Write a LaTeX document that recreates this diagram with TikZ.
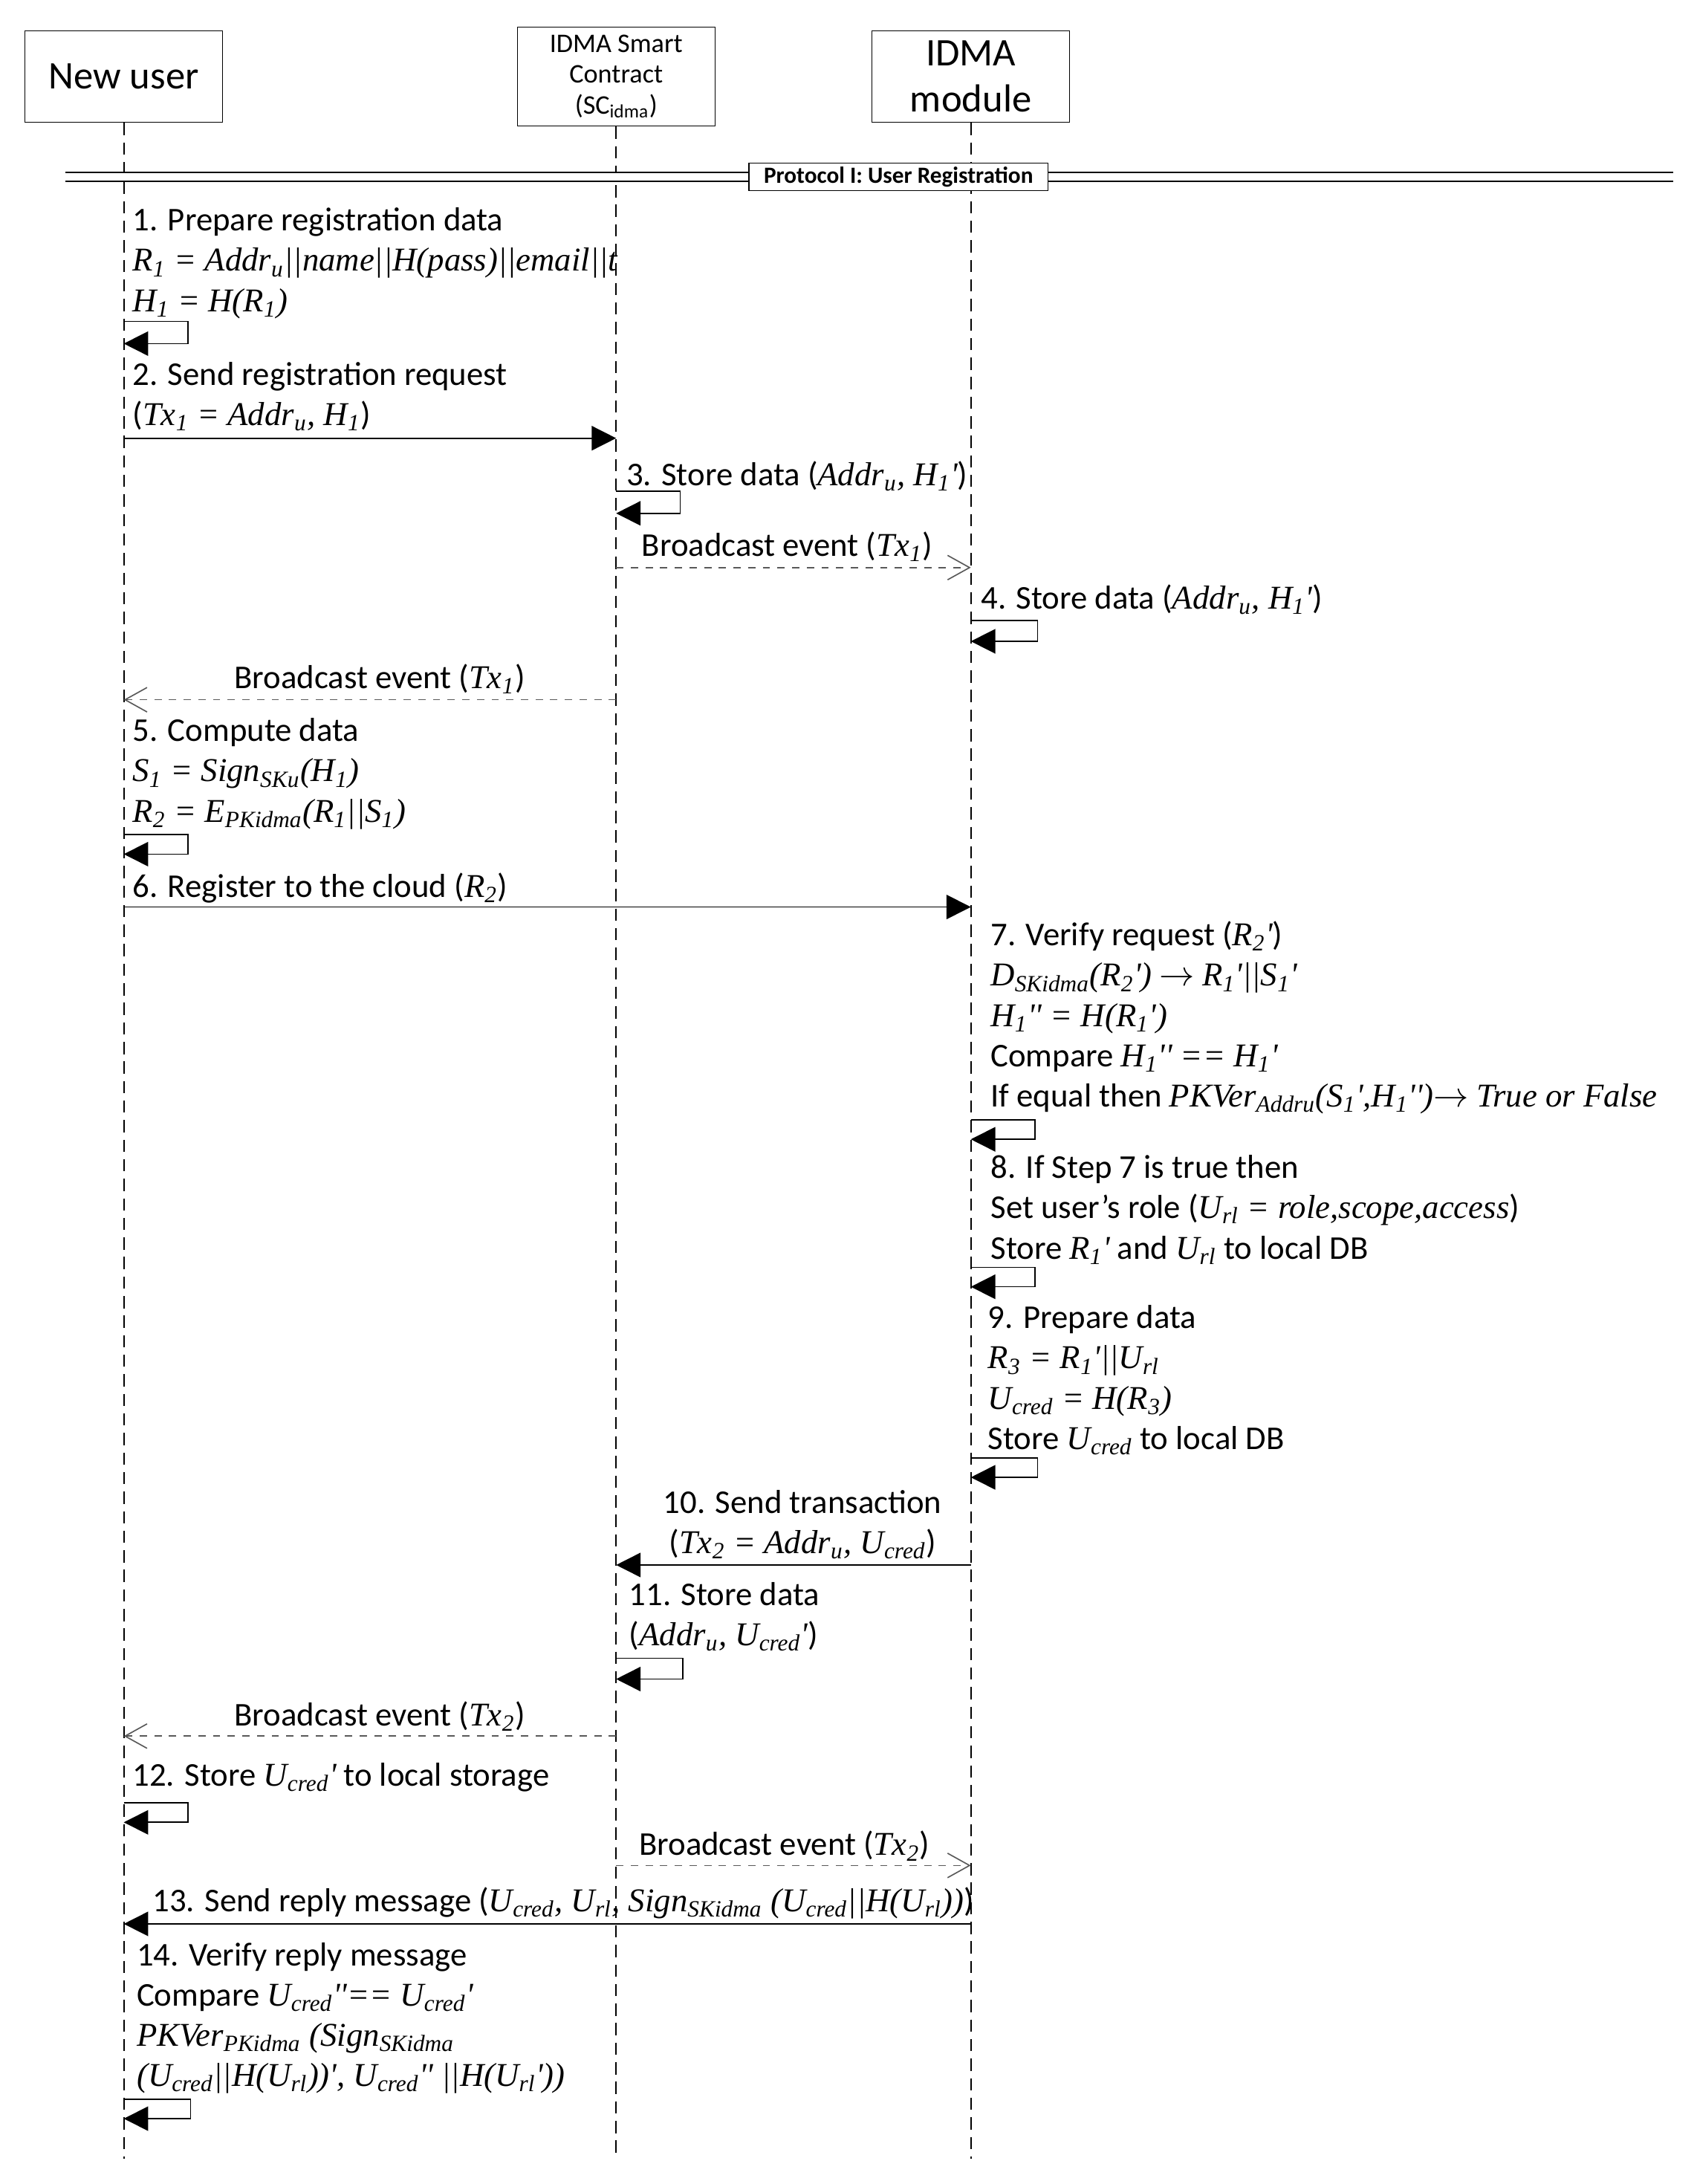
\documentclass[tikz,border=0pt]{standalone}
\usepackage{fontspec}
\setmainfont{Carlito}
\newfontfamily\tms{Liberation Serif}
\usetikzlibrary{arrows.meta}
\newcommand\vi[1]{{\tms\itshape #1}}
\newcommand\sub[1]{\textsubscript{#1}}
\tikzset{
  actor/.style={draw,minimum width=2.84cm,minimum height=1.32cm,align=center,font=\fontsize{16}{19}\selectfont},
  lifeline/.style={dash pattern=on 5pt off 3pt,line width=0.6pt},
  msg/.style={line width=0.5pt,-{Triangle[length=10pt,width=10pt]}},
  bcast/.style={dashed,gray!70!black,line width=0.5pt,-{Straight Barb[open,length=9pt,width=10pt]}},
  stepnote/.style={anchor=north west,inner sep=0pt,align=left,font=\fontsize{13.6}{16.5}\selectfont},
  lbl/.style={inner sep=0pt,align=center,font=\fontsize{13.6}{16.5}\selectfont}
}
\begin{document}
\begin{tikzpicture}[x=0.02cm,y=-0.02cm]
  \useasboundingbox (0,0) rectangle (1220,1570);
  % actors
  \node[actor] (user) at (89,55) {New user};
  \node[actor,font=\fontsize{11}{12.5}\selectfont] (sc) at (443,55) {IDMA Smart\\Contract\\(SC\sub{idma})};
  \node[actor] (idma) at (698,55) {IDMA\\module};
  \coordinate (userend) at (89,1552);
  \coordinate (scend) at (443,1552);
  \coordinate (idmaend) at (698,1552);
  \draw[lifeline] (user) -- (userend);
  \draw[lifeline] (sc) -- (scend);
  \draw[lifeline] (idma) -- (idmaend);
  % protocol bar
  \draw[double,double distance=3pt,line width=0.7pt] (47,127) -- (1203,127);
  \node[draw,fill=white,inner sep=1.5pt,minimum width=4.3cm,font=\fontsize{9.5}{11}\bfseries] (proto) at (646,127) {Protocol I: User Registration};

  % step 1
  \node[stepnote] (s1) at (95,149) {1. Prepare registration data\\
    \vi{R\sub{1} = Addr\sub{u}||name||H(pass)||email||t}\\
    \vi{H\sub{1} = H(R\sub{1})}};
  \coordinate (l1a) at (89,231); \coordinate (l1b) at (89,247);
  \draw[msg] (l1a) -- ++(46,0) |- (l1b);
  % step 2
  \node[stepnote] (s2) at (95,260) {2. Send registration request\\(\vi{Tx\sub{1} = Addr\sub{u}, H\sub{1}})};
  \coordinate (m2a) at (89,315); \coordinate (m2b) at (443,315);
  \draw[msg] (m2a) -- (m2b);
  % step 3
  \node[stepnote] (s3) at (450,331) {3. Store data (\vi{Addr\sub{u}, H\sub{1}'})};
  \coordinate (l3a) at (443,353); \coordinate (l3b) at (443,369);
  \draw[msg] (l3a) -- ++(46,0) |- (l3b);
  % broadcast Tx1
  \node[lbl] (b1) at (566,393) {Broadcast event (\vi{Tx\sub{1}})};
  \coordinate (b1a) at (443,408); \coordinate (b1b) at (698,408);
  \draw[bcast] (b1a) -- (b1b);
  % step 4
  \node[stepnote] (s4) at (705,420) {4. Store data (\vi{Addr\sub{u}, H\sub{1}'})};
  \coordinate (l4a) at (698,446); \coordinate (l4b) at (698,461);
  \draw[msg] (l4a) -- ++(48,0) |- (l4b);
  % broadcast Tx1 to user
  \node[lbl] (b2) at (273,488) {Broadcast event (\vi{Tx\sub{1}})};
  \coordinate (b2a) at (443,503); \coordinate (b2b) at (89,503);
  \draw[bcast] (b2a) -- (b2b);
  % step 5
  \node[stepnote] (s5) at (95,516) {5. Compute data\\
    \vi{S\sub{1} = Sign\sub{SKu}(H\sub{1})}\\
    \vi{R\sub{2} = E\sub{PKidma}(R\sub{1}||S\sub{1})}};
  \coordinate (l5a) at (89,600); \coordinate (l5b) at (89,614);
  \draw[msg] (l5a) -- ++(46,0) |- (l5b);
  % step 6
  \node[stepnote] (s6) at (95,627) {6. Register to the cloud (\vi{R\sub{2}})};
  \coordinate (m6a) at (89,652); \coordinate (m6b) at (698,652);
  \draw[msg] (m6a) -- (m6b);
  % step 7
  \node[stepnote] (s7) at (712,662) {7. Verify request (\vi{R\sub{2}'})\\
    \vi{D\sub{SKidma}(R\sub{2}')} $\rightarrow$ \vi{R\sub{1}'||S\sub{1}'}\\
    \vi{H\sub{1}'' = H(R\sub{1}')}\\
    Compare \vi{H\sub{1}'' == H\sub{1}'}\\
    If equal then \vi{PKVer\sub{Addru}(S\sub{1}',H\sub{1}'')}$\rightarrow$ \vi{True or False}};
  \coordinate (l7a) at (698,805); \coordinate (l7b) at (698,819);
  \draw[msg] (l7a) -- ++(46,0) |- (l7b);
  % step 8
  \node[stepnote] (s8) at (712,830) {8. If Step 7 is true then\\
    Set user's role (\vi{U\sub{rl} = role,scope,access})\\
    Store \vi{R\sub{1}'} and \vi{U\sub{rl}} to local DB};
  \coordinate (l8a) at (698,911); \coordinate (l8b) at (698,925);
  \draw[msg] (l8a) -- ++(46,0) |- (l8b);
  % step 9
  \node[stepnote] (s9) at (710,938) {9. Prepare data\\
    \vi{R\sub{3} = R\sub{1}'||U\sub{rl}}\\
    \vi{U\sub{cred} = H(R\sub{3})}\\
    Store \vi{U\sub{cred}} to local DB};
  \coordinate (l9a) at (698,1048); \coordinate (l9b) at (698,1062);
  \draw[msg] (l9a) -- ++(48,0) |- (l9b);
  % step 10
  \node[lbl] (s10) at (577,1096) {10. Send transaction\\(\vi{Tx\sub{2} = Addr\sub{u}, U\sub{cred}})};
  \coordinate (m10a) at (698,1125); \coordinate (m10b) at (443,1125);
  \draw[msg] (m10a) -- (m10b);
  % step 11
  \node[stepnote] (s11) at (452,1137) {11. Store data\\(\vi{Addr\sub{u}, U\sub{cred}'})};
  \coordinate (l11a) at (443,1192); \coordinate (l11b) at (443,1207);
  \draw[msg] (l11a) -- ++(48,0) |- (l11b);
  % broadcast Tx2 to user
  \node[lbl] (b3) at (273,1234) {Broadcast event (\vi{Tx\sub{2}})};
  \coordinate (b3a) at (443,1248); \coordinate (b3b) at (89,1248);
  \draw[bcast] (b3a) -- (b3b);
  % step 12
  \node[stepnote] (s12) at (95,1267) {12. Store \vi{U\sub{cred}'} to local storage};
  \coordinate (l12a) at (89,1296); \coordinate (l12b) at (89,1310);
  \draw[msg] (l12a) -- ++(46,0) |- (l12b);
  % broadcast Tx2 to module
  \node[lbl] (b4) at (564,1327) {Broadcast event (\vi{Tx\sub{2}})};
  \coordinate (b4a) at (443,1341); \coordinate (b4b) at (698,1341);
  \draw[bcast] (b4a) -- (b4b);
  % step 13
  \node[lbl] (s13) at (405,1368) {13. Send reply message (\vi{U\sub{cred}, U\sub{rl}, Sign\sub{SKidma} (U\sub{cred}||H(U\sub{rl}))})};
  \coordinate (m13a) at (698,1383); \coordinate (m13b) at (89,1383);
  \draw[msg] (m13a) -- (m13b);
  % step 14
  \node[stepnote] (s14) at (98,1396) {14. Verify reply message\\
    Compare \vi{U\sub{cred}''== U\sub{cred}'}\\
    \vi{PKVer\sub{PKidma} (Sign\sub{SKidma}}\\
    \vi{(U\sub{cred}||H(U\sub{rl}))', U\sub{cred}'' ||H(U\sub{rl}'))}};
  \coordinate (l14a) at (89,1509); \coordinate (l14b) at (89,1523);
  \draw[msg] (l14a) -- ++(48,0) |- (l14b);
\end{tikzpicture}
\end{document}
